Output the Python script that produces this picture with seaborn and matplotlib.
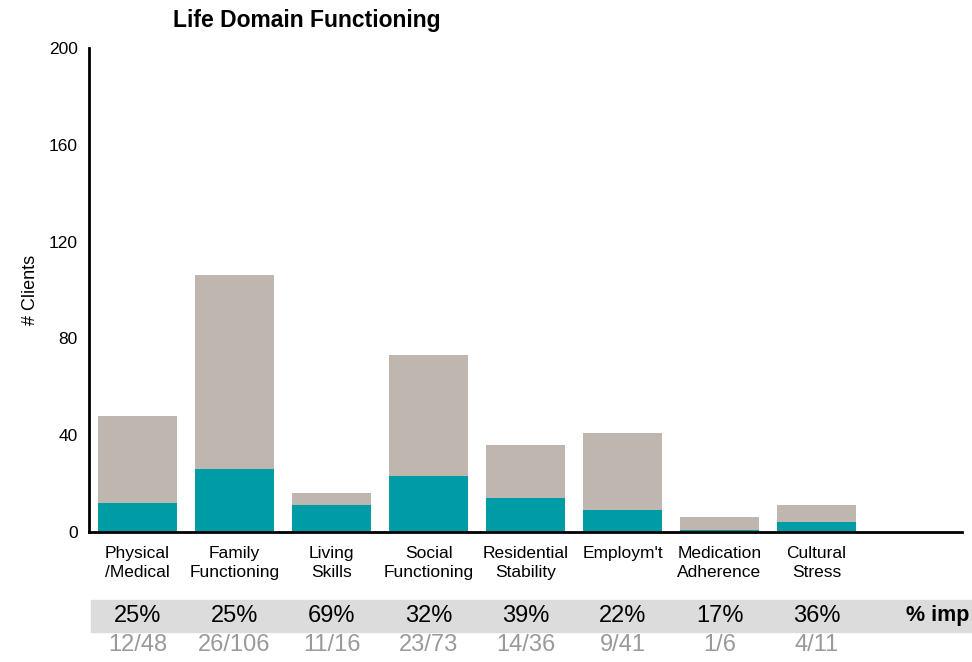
import matplotlib
matplotlib.use('Agg')
import matplotlib.pyplot as plt
import matplotlib.patches as mpatches
import seaborn as sns
import pandas as pd

# ── DATA ──
categories = ['Physical\n/Medical', 'Family\nFunctioning', 'Living\nSkills', 'Social\nFunctioning',
              'Residential\nStability', "Employm't", 'Medication\nAdherence', 'Cultural\nStress']
total_clients = [48, 106, 16, 73, 36, 41, 6, 11]
improved = [12, 26, 11, 23, 14, 9, 1, 4]
y_ticks = [0, 40, 80, 120, 160, 200]

C = {'teal': '#009CA6', 'grey': '#BFB6B0', 'band': '#DCDCDC', 'count': '#9A9A9A'}

sns.set_style('white')
plt.rcParams['font.family'] = ['Liberation Sans', 'DejaVu Sans']
plt.rcParams['text.color'] = 'black'
plt.rcParams['xtick.color'] = 'black'
plt.rcParams['ytick.color'] = 'black'
plt.rcParams['axes.labelcolor'] = 'black'

df = pd.DataFrame({'cat': categories, 'total': total_clients, 'imp': improved})

fig = plt.figure(figsize=(9.72, 6.62), dpi=100)
ax = fig.add_axes([89/972, 130/662, (962-89)/972, (532-48)/662])

# grey = all clients, teal = improved, drawn over it
sns.barplot(data=df, x='cat', y='total', color=C['grey'], width=0.81, saturation=1,
            linewidth=0, ax=ax)
sns.barplot(data=df, x='cat', y='imp', color=C['teal'], width=0.81, saturation=1,
            linewidth=0, ax=ax)

ax.set_xlim(-0.5, 8.5)
ax.set_ylim(0, 200)
ax.set_yticks(y_ticks)
ax.set_yticklabels([str(t) for t in y_ticks], fontsize=12.5)
ax.set_xticks(range(len(categories)))
ax.set_xticklabels(categories, fontsize=12.5, linespacing=1.35)
ax.tick_params(axis='both', length=0)
ax.tick_params(axis='x', pad=10)
ax.tick_params(axis='y', pad=8)
ax.set_xlabel('')
ax.set_ylabel('# Clients', fontsize=13, labelpad=7)
sns.despine(ax=ax)
for side in ['left', 'bottom']:
    ax.spines[side].set_linewidth(2)
    ax.spines[side].set_color('black')

fig.text(307/972, 1 - 20/662, 'Life Domain Functioning', ha='center', va='center',
         fontsize=16.5, fontweight='bold')

# grey band with % improved, counts underneath
fig.patches.append(mpatches.Rectangle((91/972, 30/662), (972-91)/972, 32/662,
                                      transform=fig.transFigure, color=C['band'], zorder=0))
for i, (imp, tot) in enumerate(zip(improved, total_clients)):
    xf = ax.transData.transform((i, 0))[0]
    xf = fig.transFigure.inverted().transform((xf, 0))[0]
    fig.text(xf, 1 - 616/662, f'{round(imp / tot * 100)}%', ha='center', va='center', fontsize=17)
    fig.text(xf, 1 - 645/662, f'{imp}/{tot}', ha='center', va='center', fontsize=17, color=C['count'])
fig.text(906/972, 1 - 616/662, '% imp', ha='left', va='center', fontsize=15.5, fontweight='bold')

fig.savefig('out.png', dpi=100, facecolor='white')
